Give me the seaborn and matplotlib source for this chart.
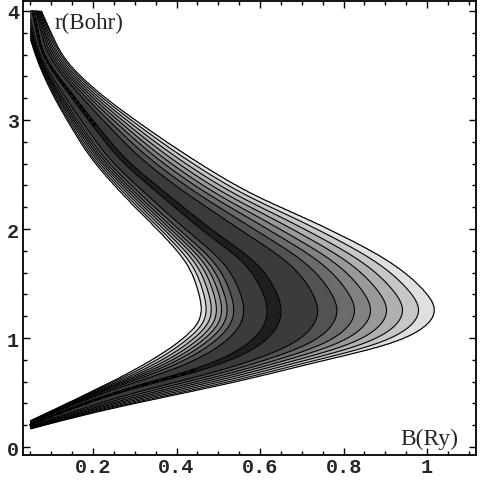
import numpy as np
import pandas as pd
import matplotlib
matplotlib.use("Agg")
import matplotlib.pyplot as plt
import seaborn as sns

# Boundary curves: B (Ry) at given r (Bohr)
inner_r = [0.242, 0.459, 0.688, 0.844, 1.009, 1.128, 1.248, 1.42, 1.66, 1.97, 2.18, 2.34, 2.64, 2.95, 3.25, 3.55, 3.75]
inner_B = [0.05, 0.169, 0.289, 0.36, 0.42, 0.452, 0.46, 0.452, 0.428, 0.36, 0.305, 0.265, 0.197, 0.145, 0.101, 0.066, 0.049]

ridge_r = [0.202, 0.385, 0.541, 0.688, 0.807, 0.96, 1.11, 1.27, 1.42, 1.66, 2.0, 2.3, 2.64, 2.95, 3.25, 3.55, 4.0]
ridge_B = [0.049, 0.169, 0.289, 0.44, 0.528, 0.596, 0.628, 0.636, 0.624, 0.584, 0.47, 0.375, 0.272, 0.205, 0.145, 0.088, 0.057]

outer_r = [0.165, 0.33, 0.477, 0.624, 0.78, 0.93, 1.08, 1.245, 1.45, 1.69, 2.0, 2.34, 2.64, 2.95, 3.25, 3.55, 3.8, 4.0]
outer_B = [0.05, 0.217, 0.397, 0.576, 0.736, 0.905, 0.99, 1.022, 0.99, 0.915, 0.765, 0.572, 0.44, 0.32, 0.215, 0.135, 0.1, 0.077]

# contour line positions across the band (fraction of distance ridge -> edge)
outer_frac = [0.04, 0.27, 0.39, 0.50, 0.60, 0.70, 0.80, 0.90, 1.0]
inner_frac = [0.10, 0.42, 0.555, 0.645, 0.72, 0.79, 0.86, 0.93, 1.0]
band_gray = [0.12, 0.23, 0.32, 0.42, 0.51, 0.60, 0.69, 0.78, 0.88]

x_ticks = [0.2, 0.4, 0.6, 0.8, 1.0]
x_labels = ["0.2", "0.4", "0.6", "0.8", "1"]
y_ticks = [0, 1, 2, 3, 4]
y_labels = ["0", "1", "2", "3", "4"]


def hermite(xp, yp, x):
    # cubic hermite through the read points, linear outside
    xp = np.asarray(xp, float)
    yp = np.asarray(yp, float)
    d = np.gradient(yp, xp)
    i = np.clip(np.searchsorted(xp, x) - 1, 0, len(xp) - 2)
    h = xp[i + 1] - xp[i]
    t = (x - xp[i]) / h
    y = ((2 * t**3 - 3 * t**2 + 1) * yp[i] + (t**3 - 2 * t**2 + t) * h * d[i]
         + (-2 * t**3 + 3 * t**2) * yp[i + 1] + (t**3 - t**2) * h * d[i + 1])
    y = np.where(x < xp[0], yp[0] + d[0] * (x - xp[0]), y)
    y = np.where(x > xp[-1], yp[-1] + d[-1] * (x - xp[-1]), y)
    return y


r_fine = np.linspace(-0.6, 4.6, 1301)
kern = np.exp(-0.5 * (np.arange(-40, 41) * (r_fine[1] - r_fine[0]) / 0.07) ** 2)
kern /= kern.sum()


def curve(xp, yp, x):
    # smooth out reading noise a little
    y = hermite(xp, yp, r_fine)
    y = np.convolve(np.pad(y, 40, mode="edge"), kern, mode="valid")
    return np.interp(x, r_fine, y)


sns.set_style("ticks")

B = np.linspace(0.05, 1.11, 900)
R = np.linspace(0.0, 4.0, 900)
BB, RR = np.meshgrid(B, R)
ri = curve(inner_r, inner_B, RR)
rm = curve(ridge_r, ridge_B, RR)
ro = curve(outer_r, outer_B, RR)

edges = [0.0] + [k + 0.5 for k in range(9)]
with np.errstate(divide="ignore", invalid="ignore"):
    fo = (BB - rm) / (ro - rm)
    fi = (rm - BB) / (rm - ri)
vo = np.interp(fo, [0.0] + outer_frac, edges)
vi = np.interp(fi, [0.0] + inner_frac, edges)
v = np.where(BB >= rm, np.where(fo > 1, 9.0 + fo, vo), np.where(fi > 1, 9.0 + fi, vi))
v = np.where((BB >= rm) & (ro <= rm), 20.0, v)
v = np.where((BB < rm) & (ri >= rm), 20.0, v)

fig = plt.figure(figsize=(4.81, 4.81), dpi=100)
ax = fig.add_axes([22.7 / 481, 25 / 481, (476 - 22.7) / 481, (456 - 1.5) / 481])

ax.contourf(BB, RR, v, levels=[-1.0] + edges[1:], colors=[str(g) for g in band_gray])
ax.contour(BB, RR, v, levels=edges[1:], colors="black", linewidths=0.8)

# thin part of the darkest band shows up as dashes
lo = np.linspace(0.2, 0.70, 60)
hi = np.linspace(2.95, 3.97, 60)
sns.lineplot(data=pd.DataFrame({"B": curve(ridge_r, ridge_B, lo), "r": lo}), x="B", y="r",
             sort=False, color="black", lw=1.8, linestyle=(0, (2.5, 1.5)), ax=ax)
sns.lineplot(data=pd.DataFrame({"B": curve(ridge_r, ridge_B, hi), "r": hi}), x="B", y="r",
             sort=False, color="black", lw=2.0, linestyle=(0, (1.0, 1.0)), ax=ax)

ax.set_xlim(0.0316, 1.117)
ax.set_ylim(-0.073, 4.096)
ax.set_xlabel("")
ax.set_ylabel("")

ax.set_xticks(x_ticks)
ax.set_xticklabels(x_labels)
ax.set_yticks(y_ticks)
ax.set_yticklabels(y_labels)
ax.set_xticks(np.arange(0.05, 1.11, 0.05), minor=True)
ax.set_yticks(np.arange(0.0, 4.05, 0.2), minor=True)
ax.tick_params(which="both", direction="in", top=True, right=True, width=1.0, color="black")
ax.tick_params(which="major", length=5)
ax.tick_params(which="minor", length=3)
ax.tick_params(axis="x", pad=1.5)
ax.tick_params(axis="y", pad=2.5)
for lab in ax.get_xticklabels() + ax.get_yticklabels():
    lab.set_family(["Liberation Mono", "DejaVu Sans Mono"])
    lab.set_fontweight("bold")
    lab.set_fontsize(14.5)
for sp in ax.spines.values():
    sp.set_linewidth(1.3)
    sp.set_color("black")

ax.text(0.109, 3.84, "r(Bohr)", family=["Liberation Serif", "DejaVu Serif"], fontsize=16.5, va="baseline")
ax.text(1.074, 0.03, "B(Ry)", family=["Liberation Serif", "DejaVu Serif"], fontsize=17, va="baseline", ha="right")

fig.savefig("out.png", dpi=100, facecolor="white")
